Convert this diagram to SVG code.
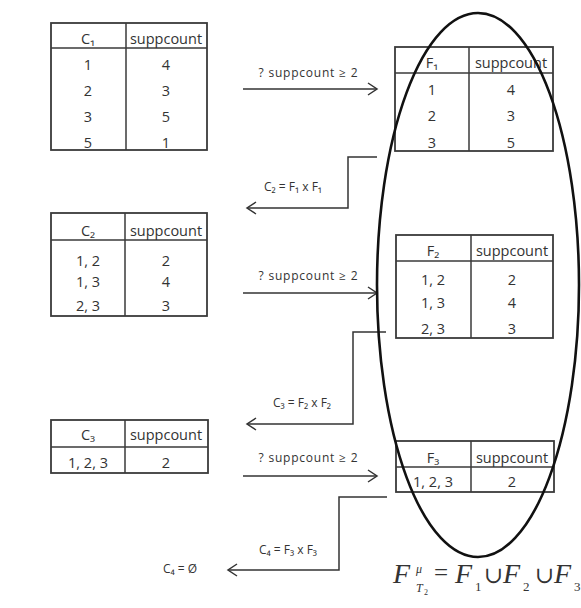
<svg xmlns="http://www.w3.org/2000/svg" width="581" height="608" viewBox="0 0 581 608">
<style>
.tb{fill:none;stroke:#3a3a3a;stroke-width:1.8}
.dv{stroke:#3a3a3a;stroke-width:1.5}
.t{font-family:"Open Sans","DejaVu Sans",sans-serif;font-size:14.5px;fill:#333;text-anchor:middle}
.lb{font-family:"Open Sans","DejaVu Sans",sans-serif;font-size:12px;fill:#333;text-anchor:middle}
.cn{fill:none;stroke:#333;stroke-width:1.5}
.m{font-family:"Liberation Serif","DejaVu Serif",serif;fill:#333;font-style:italic}
.mn{font-family:"Liberation Serif","DejaVu Serif",serif;fill:#333}
</style>
<defs>
<marker id="ah" markerUnits="userSpaceOnUse" markerWidth="12" markerHeight="14" refX="10" refY="7" orient="auto">
<path d="M1,1 L10,7 L1,13" fill="none" stroke="#333" stroke-width="1.5"/>
</marker>
</defs>
<rect width="581" height="608" fill="#fff"/>

<g id="C1">
<rect class="tb" x="51" y="23" width="156" height="127"/>
<line class="dv" x1="51" y1="48" x2="207" y2="48"/>
<line class="dv" x1="126" y1="23" x2="126" y2="150"/>
<text class="t" x="88" y="44">C₁</text><text class="t" x="166" y="44">suppcount</text>
<text class="t" x="88" y="70">1</text><text class="t" x="166" y="70">4</text>
<text class="t" x="88" y="96">2</text><text class="t" x="166" y="96">3</text>
<text class="t" x="88" y="122">3</text><text class="t" x="166" y="122">5</text>
<text class="t" x="88" y="148">5</text><text class="t" x="166" y="148">1</text>
</g>

<g id="F1">
<rect class="tb" x="395" y="47" width="158" height="104"/>
<line class="dv" x1="395" y1="73" x2="553" y2="73"/>
<line class="dv" x1="469" y1="47" x2="469" y2="151"/>
<text class="t" x="432" y="68">F₁</text><text class="t" x="511" y="68">suppcount</text>
<text class="t" x="432" y="95">1</text><text class="t" x="511" y="95">4</text>
<text class="t" x="432" y="121">2</text><text class="t" x="511" y="121">3</text>
<text class="t" x="432" y="148">3</text><text class="t" x="511" y="148">5</text>
</g>

<g id="C2">
<rect class="tb" x="51" y="213" width="156" height="103"/>
<line class="dv" x1="51" y1="240" x2="207" y2="240"/>
<line class="dv" x1="125" y1="213" x2="125" y2="316"/>
<text class="t" x="88" y="236">C₂</text><text class="t" x="166" y="236">suppcount</text>
<text class="t" x="88" y="266">1, 2</text><text class="t" x="166" y="266">2</text>
<text class="t" x="88" y="287">1, 3</text><text class="t" x="166" y="287">4</text>
<text class="t" x="88" y="311">2, 3</text><text class="t" x="166" y="311">3</text>
</g>

<g id="F2">
<rect class="tb" x="396" y="235" width="157" height="103"/>
<line class="dv" x1="396" y1="261" x2="553" y2="261"/>
<line class="dv" x1="471" y1="235" x2="471" y2="338"/>
<text class="t" x="433" y="256">F₂</text><text class="t" x="512" y="256">suppcount</text>
<text class="t" x="433" y="285">1, 2</text><text class="t" x="512" y="285">2</text>
<text class="t" x="433" y="308">1, 3</text><text class="t" x="512" y="308">4</text>
<text class="t" x="433" y="334">2, 3</text><text class="t" x="512" y="334">3</text>
</g>

<g id="C3">
<rect class="tb" x="51" y="420" width="157" height="53"/>
<line class="dv" x1="51" y1="447" x2="208" y2="447"/>
<line class="dv" x1="125" y1="420" x2="125" y2="473"/>
<text class="t" x="88" y="440">C₃</text><text class="t" x="166" y="440">suppcount</text>
<text class="t" x="88" y="468">1, 2, 3</text><text class="t" x="166" y="468">2</text>
</g>

<g id="F3">
<rect class="tb" x="396" y="441" width="158" height="51"/>
<line class="dv" x1="396" y1="467" x2="554" y2="467"/>
<line class="dv" x1="471" y1="441" x2="471" y2="492"/>
<text class="t" x="433" y="463">F₃</text><text class="t" x="512" y="463">suppcount</text>
<text class="t" x="433" y="487">1, 2, 3</text><text class="t" x="512" y="487">2</text>
</g>

<g id="connectors">
<path class="cn" d="M243,89 H377" marker-end="url(#ah)"/>
<path class="cn" d="M377,157 H348 V208 H247" marker-end="url(#ah)"/>
<path class="cn" d="M243,293 H377" marker-end="url(#ah)"/>
<path class="cn" d="M386,332 H353 V424 H247" marker-end="url(#ah)"/>
<path class="cn" d="M243,476 H377" marker-end="url(#ah)"/>
<path class="cn" d="M387,497 H339 V570 H228" marker-end="url(#ah)"/>
<text class="lb" x="308" y="77" textLength="99">? suppcount ≥ 2</text>
<text class="lb" x="293" y="191">C₂ = F₁ x F₁</text>
<text class="lb" x="308" y="280" textLength="99">? suppcount ≥ 2</text>
<text class="lb" x="302" y="407">C₃ = F₂ x F₂</text>
<text class="lb" x="308" y="462" textLength="99">? suppcount ≥ 2</text>
<text class="lb" x="288" y="554">C₄ = F₃ x F₃</text>
<text class="lb" x="180" y="573">C₄ = Ø</text>
</g>

<g id="ellipse">
<ellipse cx="478" cy="285" rx="101" ry="272" fill="none" stroke="#111" stroke-width="2.6"/>
</g>

<g id="formula">
<text class="m" x="393" y="583" font-size="28">F</text>
<text class="m" x="416" y="573" font-size="12">μ</text>
<text class="m" x="416" y="592" font-size="12">T</text>
<text class="mn" x="424" y="595" font-size="8">2</text>
<text class="mn" x="434" y="581" font-size="25">=</text>
<text class="m" x="455" y="583" font-size="28">F</text>
<text class="mn" x="475" y="591" font-size="13">1</text>
<text class="mn" x="484" y="583" font-size="23">∪</text>
<text class="m" x="503" y="583" font-size="28">F</text>
<text class="mn" x="523" y="591" font-size="13">2</text>
<text class="mn" x="535" y="583" font-size="23">∪</text>
<text class="m" x="554" y="583" font-size="28">F</text>
<text class="mn" x="574" y="591" font-size="13">3</text>
</g>
</svg>
